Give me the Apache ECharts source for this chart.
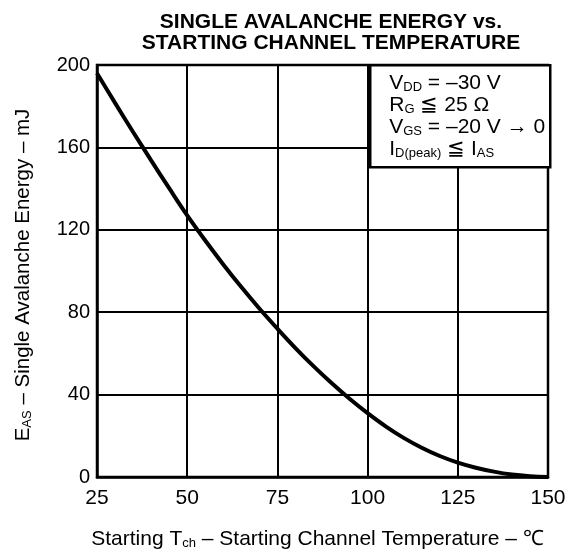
<!DOCTYPE html>
<html>
<head>
<meta charset="utf-8">
<script src="https://cdn.jsdelivr.net/npm/echarts@6/dist/echarts.min.js"></script>
<style>html,body{margin:0;padding:0;background:#fff}#c{width:582px;height:556px}</style>
</head>
<body>
<div id="c"></div>
<script>
var temps = [25,30,35,40,45,50,55,60,65,70,75,80,85,90,95,100,105,110,115,120,125,130,135,140,145,150];
var energy = [196,181.6,167.5,153.7,140.2,127,114.8,103.2,92.2,81.8,72,62.6,53.8,45.6,38,31,24.6,19,14.2,10.2,7,4.5,2.6,1.2,0.4,0];
var xTicks = [25,50,75,100,125,150];
var yTicks = [0,40,80,120,160,200];

var chart = echarts.init(document.getElementById('c'));
var F = 'Liberation Sans, Arial, Helvetica, sans-serif';
chart.setOption({
  animation: false,
  backgroundColor: '#fff',
  title: {
    text: 'SINGLE AVALANCHE ENERGY vs.\nSTARTING CHANNEL TEMPERATURE',
    left: 326, top: 7, textAlign: 'center',
    textStyle: {fontFamily: F, fontSize: 21, fontWeight: 'bold', color: '#000', lineHeight: 21}
  },
  grid: {left: 97, right: 34, top: 65, bottom: 79, containLabel: false, outerBoundsMode: 'none',
    show: true, borderColor: '#000', borderWidth: 2.5, backgroundColor: 'transparent'},
  xAxis: {
    type: 'value', min: 25, max: 150, interval: 25,
    axisLine: {show: true, lineStyle: {color: '#000', width: 2.5}},
    axisTick: {show: false},
    splitLine: {show: true, lineStyle: {color: '#000', width: 2}},
    axisLabel: {color: '#000', fontFamily: F, fontSize: 21, margin: 11,
      formatter: function(v){ return xTicks.indexOf(v) >= 0 ? String(v) : ''; }},
    name: '{m|Starting T}{s|ch}{m| – Starting Channel Temperature – ℃}',
    nameLocation: 'middle', nameGap: 51,
    nameTextStyle: {padding: [0, 10, 0, 0], rich: {
      m: {fontFamily: F, fontSize: 21, color: '#000', lineHeight: 22},
      s: {fontFamily: F, fontSize: 13, color: '#000', lineHeight: 14, verticalAlign: 'bottom'}
    }}
  },
  yAxis: {
    type: 'value', min: 0, max: 200, interval: 40,
    axisLine: {show: true, lineStyle: {color: '#000', width: 2.5}},
    axisTick: {show: false},
    splitLine: {show: true, lineStyle: {color: '#000', width: 2}},
    axisLabel: {color: '#000', fontFamily: F, fontSize: 20, margin: 7,
      formatter: function(v){ return yTicks.indexOf(v) >= 0 ? String(v) : ''; }},
    name: '{m|E}{s|AS}{m| – Single Avalanche Energy – mJ}',
    nameLocation: 'middle', nameGap: 63, nameRotate: 90,
    nameTextStyle: {padding: [0, 8, 0, 0], rich: {
      m: {fontFamily: F, fontSize: 20.5, color: '#000', lineHeight: 22},
      s: {fontFamily: F, fontSize: 13, color: '#000', lineHeight: 14, verticalAlign: 'bottom'}
    }}
  },
  series: [{
    type: 'line', data: temps.map(function(t,i){return [t, energy[i]];}),
    smooth: 0.4, showSymbol: false, symbol: 'none',
    lineStyle: {color: '#000', width: 4}, z: 5
  }],
  graphic: [{
    type: 'group', left: 369, top: 64, z: 100,
    children: [
      {type: 'rect', z: 100, shape: {x: 0, y: 0, width: 180, height: 102},
        style: {fill: '#fff', stroke: '#000', lineWidth: 2.5}},
      {type: 'text', z: 101, x: 19, y: 7, style: {
        text: '{m|V}{s|DD}{m| = –30 V}\n{m|R}{s|G}{m| ≦ 25 Ω}\n{m|V}{s|GS}{m| = –20 V }{a|→}{m| 0}\n{m|I}{s|D(peak)}{m| ≦ I}{s|AS}',
        rich: {
          m: {fontFamily: F, fontSize: 21, fill: '#000', lineHeight: 22},
          a: {fontFamily: F, fontSize: 21, fill: '#000', lineHeight: 22},
          s: {fontFamily: F, fontSize: 13, fill: '#000', lineHeight: 15, verticalAlign: 'bottom', fontWeight: 'normal'}
        }
      }}
    ]
  }]
});
</script>
</body>
</html>
